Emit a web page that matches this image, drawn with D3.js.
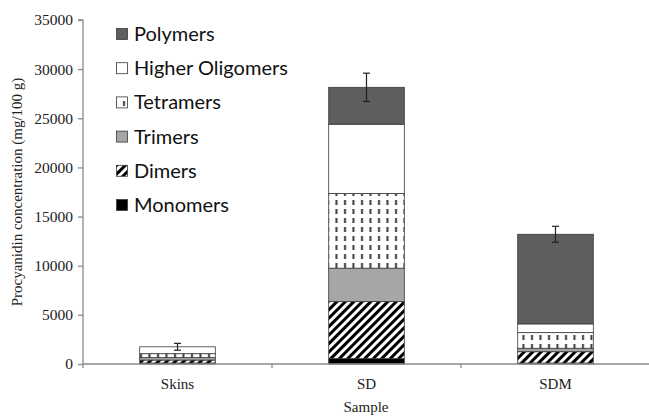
<!DOCTYPE html>
<html><head><meta charset="utf-8">
<script src="https://cdn.jsdelivr.net/npm/d3@7"></script>
<style>body{margin:0;background:#fff}svg{display:block}</style>
</head><body>
<svg id="c" width="649" height="416"></svg>
<script>
const categories = ["Skins", "SD", "SDM"];
const seriesNames = ["Monomers", "Dimers", "Trimers", "Tetramers", "Higher Oligomers", "Polymers"];
const monomers = [100, 550, 100];
const dimers = [300, 5800, 1150];
const trimers = [250, 3400, 350];
const tetramers = [400, 7600, 1590];
const higherOligomers = [700, 7050, 890];
const polymers = [0, 3750, 9120];
const errors = [350, 1440, 810];
const yTicks = [0, 5000, 10000, 15000, 20000, 25000, 30000, 35000];

const seriesValues = [monomers, dimers, trimers, tetramers, higherOligomers, polymers];
const svg = d3.select("#c");
const m = {left: 83, right: 650, top: 20, bottom: 364};

const defs = svg.append("defs");
const hatch = defs.append("pattern").attr("id", "hatch").attr("patternUnits", "userSpaceOnUse")
  .attr("width", 6).attr("height", 6).attr("patternTransform", "rotate(45)");
hatch.append("rect").attr("width", 6).attr("height", 6).attr("fill", "#fff");
hatch.append("rect").attr("width", 3).attr("height", 6).attr("fill", "#000");
const dash = defs.append("pattern").attr("id", "dash").attr("patternUnits", "userSpaceOnUse")
  .attr("width", 8.5).attr("height", 9).attr("x", 1);
dash.append("rect").attr("width", 8.5).attr("height", 9).attr("fill", "#fff");
dash.append("rect").attr("x", 3).attr("y", 2).attr("width", 2).attr("height", 5).attr("fill", "#3a3a3a");

const fills = {"Monomers": "#000", "Dimers": "url(#hatch)", "Trimers": "#a6a6a6",
  "Tetramers": "url(#dash)", "Higher Oligomers": "#fff", "Polymers": "#5e5e5e"};

const x = d3.scaleBand().domain(categories).range([m.left, m.right]).paddingInner(0.6).paddingOuter(0.3);
const xb = d3.scaleBand().domain(categories).range([m.left, m.right]);
const y = d3.scaleLinear().domain([0, 35000]).range([m.bottom, m.top]);

const table = categories.map((c, i) => {
  const o = {cat: c};
  seriesNames.forEach((s, j) => o[s] = seriesValues[j][i]);
  return o;
});
const stack = d3.stack().keys(seriesNames)(table);

const g = svg.append("g");
stack.forEach(layer => {
  g.selectAll(null).data(layer).join("rect")
    .attr("x", d => x(d.data.cat))
    .attr("width", x.bandwidth())
    .attr("y", d => y(d[1]))
    .attr("height", d => Math.max(0, y(d[0]) - y(d[1])))
    .attr("fill", fills[layer.key])
    .attr("stroke", "#3a3a3a").attr("stroke-width", 0.8);
});

// error bars
const totals = categories.map((c, i) => d3.sum(seriesValues, s => s[i]));
const eb = svg.append("g").attr("stroke", "#222").attr("stroke-width", 1.2);
categories.forEach((c, i) => {
  const cx = x(c) + x.bandwidth() / 2;
  eb.append("line").attr("x1", cx).attr("x2", cx).attr("y1", y(totals[i] - errors[i])).attr("y2", y(totals[i] + errors[i]));
  eb.append("line").attr("x1", cx - 3.5).attr("x2", cx + 3.5).attr("y1", y(totals[i] + errors[i])).attr("y2", y(totals[i] + errors[i]));
  eb.append("line").attr("x1", cx - 3.5).attr("x2", cx + 3.5).attr("y1", y(totals[i] - errors[i])).attr("y2", y(totals[i] - errors[i]));
});

// y axis
const ya = svg.append("g").attr("transform", `translate(${m.left},0)`)
  .call(d3.axisLeft(y).tickValues(yTicks).tickSize(5).tickPadding(5).tickFormat(d3.format("d")));
ya.select(".domain").attr("stroke", "#8a8a8a").attr("stroke-width", 1.3).attr("d", `M-5,${m.top}H0V${m.bottom}`);
ya.selectAll(".tick line").attr("stroke", "#8a8a8a").attr("stroke-width", 1.3);
ya.selectAll("text").attr("font-family", "Liberation Serif").attr("font-size", 15.5).attr("fill", "#222");

// x axis
const xa = svg.append("g");
xa.append("line").attr("x1", m.left).attr("x2", 649).attr("y1", m.bottom).attr("y2", m.bottom)
  .attr("stroke", "#8a8a8a").attr("stroke-width", 1.5);
const bounds = categories.map(c => xb(c)).concat([m.right]);
xa.selectAll(null).data(bounds).join("line")
  .attr("x1", d => d).attr("x2", d => d).attr("y1", m.bottom).attr("y2", m.bottom + 4)
  .attr("stroke", "#8a8a8a").attr("stroke-width", 1.3);
xa.selectAll(null).data(categories).join("text")
  .attr("x", d => xb(d) + xb.bandwidth() / 2).attr("y", 389)
  .attr("text-anchor", "middle").attr("font-family", "Liberation Serif").attr("font-size", 15).attr("fill", "#222")
  .text(d => d);

svg.append("text").attr("x", 366).attr("y", 412).attr("text-anchor", "middle")
  .attr("font-family", "Liberation Serif").attr("font-size", 15).attr("fill", "#222").text("Sample");
svg.append("text").attr("transform", "translate(22,192) rotate(-90)").attr("text-anchor", "middle")
  .attr("font-family", "Liberation Serif").attr("font-size", 15).attr("fill", "#222")
  .text("Procyanidin concentration (mg/100 g)");

// legend
const legendOrder = seriesNames.slice().reverse();
const lg = svg.append("g");
legendOrder.forEach((s, i) => {
  const cy = 34 + i * 34.2;
  lg.append("rect").attr("x", 116.5).attr("y", cy - 5.5).attr("width", 11).attr("height", 11)
    .attr("fill", fills[s]).attr("stroke", "#3a3a3a").attr("stroke-width", 0.8);
  lg.append("text").attr("x", 134).attr("y", cy + 7).attr("font-family", "Lato").attr("font-size", 20)
    .attr("fill", "#111").text(s);
});
</script>
</body></html>
